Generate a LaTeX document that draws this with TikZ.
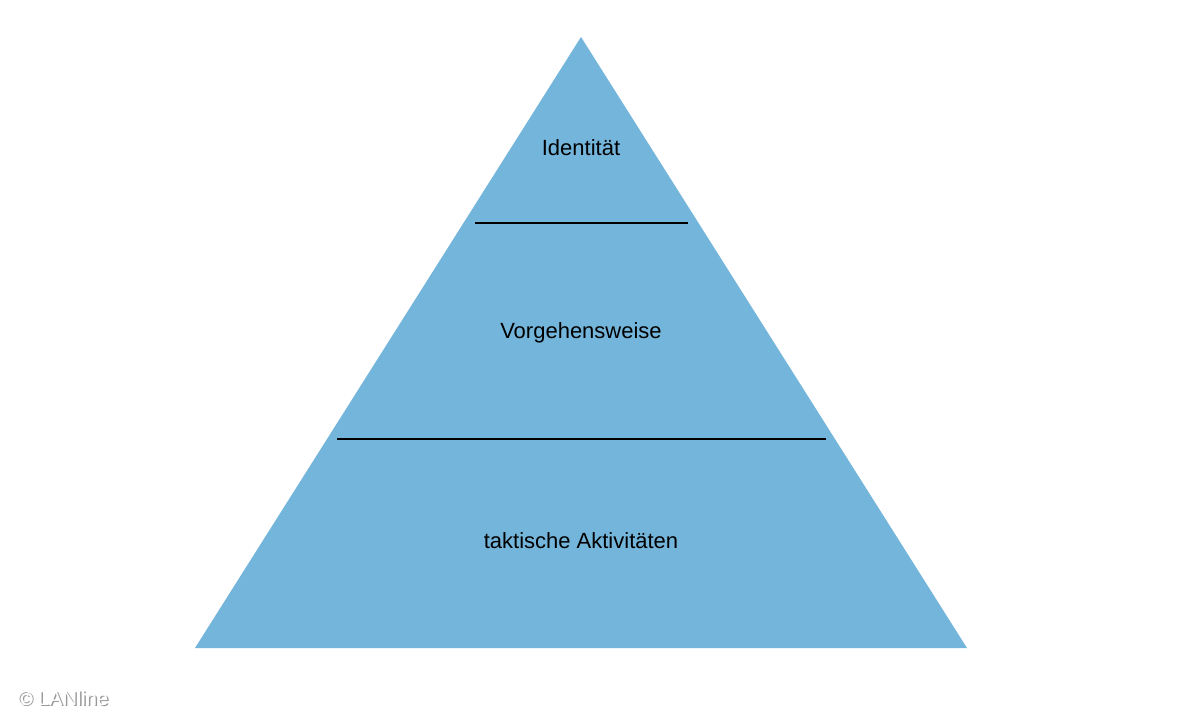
\documentclass[tikz,border=0pt]{standalone}
\usepackage{fontspec}
\setmainfont{Liberation Sans}
\definecolor{pyr}{HTML}{74B5DB}
\begin{document}
\begin{tikzpicture}[x=1pt,y=-1pt,
  lbl/.style={font=\fontsize{22}{26}\selectfont, text=black},
  sep/.style={draw=black, line width=1.6pt}]
\useasboundingbox (0,0) rectangle (1200,720);
\fill[white] (0,0) rectangle (1200,720);
\coordinate (top) at (581,37);
\coordinate (bl) at (195,648);
\coordinate (br) at (967,648);
\fill[pyr] (top) -- (bl) -- (br) -- cycle;
\coordinate (a1) at (475,223); \coordinate (a2) at (688,223);
\coordinate (b1) at (337,439); \coordinate (b2) at (826,439);
\draw[sep] (a1) -- (a2);
\draw[sep] (b1) -- (b2);
\node[lbl] (t1) at (581,148) {Identität};
\node[lbl] (t2) at (581,333) {Vorgehensweise};
\node[lbl] (t3) at (581,541) {taktische Aktivitäten};
\node[font=\fontsize{20}{24}\selectfont, text=gray!80] (wms) at (64.5,699.5) {© LANline};
\node[font=\fontsize{20}{24}\selectfont, text=white] (wm) at (63,698) {© LANline};
\end{tikzpicture}
\end{document}
